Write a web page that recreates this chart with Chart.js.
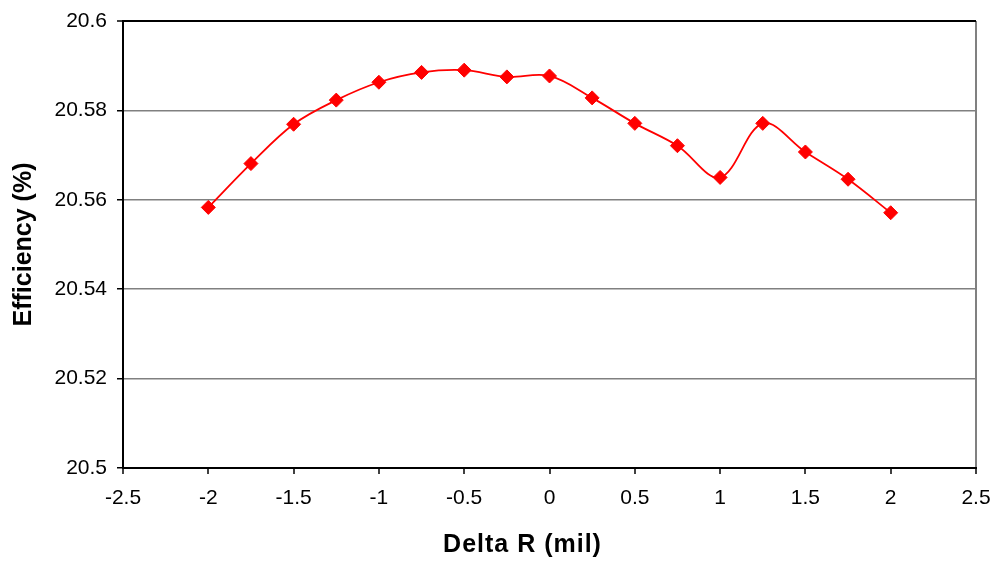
<!DOCTYPE html>
<html lang="en">

<head>
    <title>Efficiency vs Delta R</title>
    <meta charset="utf-8">
    <script src="https://cdn.jsdelivr.net/npm/chart.js@4/dist/chart.umd.min.js"></script>
    <style>
        html, body { margin: 0; padding: 0; background: #fff; }
        #wrap { width: 995px; height: 563px; }
    </style>
</head>

<body>
    <div id="wrap">
        <canvas id="effChart" width="995" height="563"></canvas>
    </div>
    <script type="text/javascript">
    // values
    var deltaR = [-2, -1.75, -1.5, -1.25, -1, -0.75, -0.5, -0.25, 0, 0.25, 0.5, 0.75, 1, 1.25, 1.5, 1.75, 2];
    var efficiency = [20.5583, 20.5681, 20.5769, 20.5823, 20.5863, 20.5885, 20.5890, 20.5875, 20.5877,
                      20.5828, 20.5771, 20.5721, 20.5650, 20.5771, 20.5707, 20.5646, 20.5571];

    var xRange = [-2.5, 2.5];
    var xStep = 0.5;
    var yRange = [20.5, 20.6];
    var yStep = 0.02;

    var points = [];
    for (var i = 0; i < deltaR.length; i++) {
        points.push({ x: deltaR[i], y: efficiency[i] });
    }

    // the x axis title is a bit letter-spaced and sits left of centre in the original
    var titleSpacing = {
        id: "titleSpacing",
        afterLayout: function(chart) {
            var sc = chart.scales.x;
            if (sc._wrapped) return;
            var orig = sc.drawTitle;
            sc.drawTitle = function() {
                var c = this.ctx;
                c.save();
                c.letterSpacing = "1px";
                c.translate(-27, 0);
                orig.apply(this, arguments);
                c.restore();
            };
            sc._wrapped = true;
        }
    };

    var fmt = function(v) { return String(Number(v.toFixed(2))); };
    var tickFont = { family: "'Liberation Sans', Arial, sans-serif", size: 21 };
    var titleFont = { family: "'Liberation Sans', Arial, sans-serif", size: 25, weight: "bold" };

    var ctx = document.getElementById("effChart").getContext("2d");
    var chart = new Chart(ctx, {
        type: "line",
        data: {
            datasets: [{
                data: points,
                borderColor: "#ff0000",
                borderWidth: 1.8,
                backgroundColor: "#ff0000",
                tension: 0.35,
                fill: false,
                pointStyle: "rectRot",
                pointRadius: 7,
                pointBorderWidth: 1,
                pointBackgroundColor: "#ff0000",
                pointBorderColor: "#ff0000"
            }]
        },
        plugins: [titleSpacing],
        options: {
            responsive: false,
            animation: false,
            events: [],
            layout: { padding: { left: 5, right: 19, top: 21, bottom: 0 } },
            plugins: {
                legend: { display: false },
                tooltip: { enabled: false }
            },
            scales: {
                x: {
                    type: "linear",
                    min: xRange[0],
                    max: xRange[1],
                    afterFit: function(scale) {
                        scale.height = 95;
                        scale.paddingLeft = 0;
                        scale.paddingRight = 0;
                    },
                    ticks: {
                        stepSize: xStep,
                        color: "#000",
                        padding: 12,
                        maxRotation: 0,
                        autoSkip: false,
                        font: tickFont,
                        callback: fmt
                    },
                    grid: {
                        drawTicks: true,
                        tickLength: 6,
                        tickColor: "#000",
                        tickWidth: 1.5,
                        color: function(c) { return c.tick && c.tick.value === xRange[1] ? "#808080" : "rgba(0,0,0,0)"; },
                        lineWidth: 2
                    },
                    border: { color: "#000", width: 2 },
                    title: {
                        display: true,
                        text: "Delta R (mil)",
                        color: "#000",
                        padding: 3,
                        font: titleFont
                    }
                },
                y: {
                    min: yRange[0],
                    max: yRange[1],
                    afterFit: function(scale) {
                        scale.width = 118;
                        scale.paddingTop = 0;
                        scale.paddingBottom = 0;
                    },
                    ticks: {
                        stepSize: yStep,
                        color: "#000",
                        padding: 10,
                        font: tickFont,
                        callback: fmt
                    },
                    grid: {
                        drawTicks: true,
                        tickLength: 6,
                        tickColor: "#000",
                        tickWidth: 1.5,
                        color: function(c) { return c.tick && c.tick.value >= yRange[1] - 1e-9 ? "#000" : "#808080"; },
                        lineWidth: function(c) { return c.tick && c.tick.value >= yRange[1] - 1e-9 ? 2 : 1.5; }
                    },
                    border: { color: "#000", width: 2 },
                    title: {
                        display: true,
                        text: "Efficiency (%)",
                        color: "#000",
                        padding: 4,
                        font: titleFont
                    }
                }
            }
        }
    });
    </script>
</body>

</html>
